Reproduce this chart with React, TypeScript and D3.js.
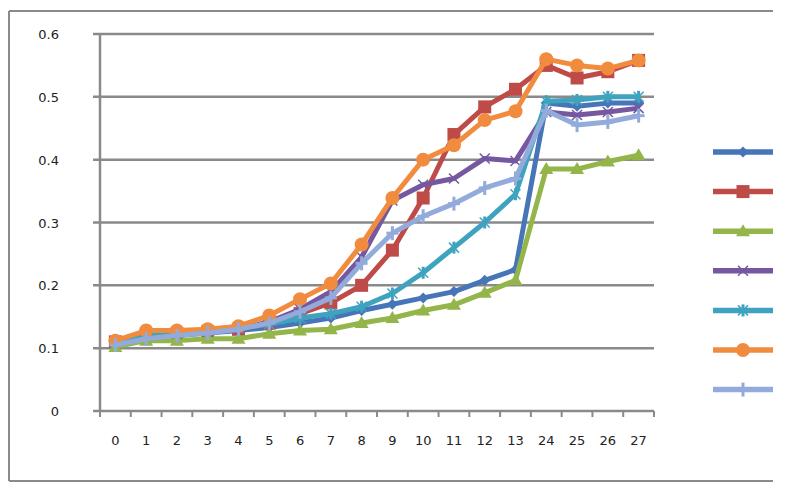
import React from "react";
import * as d3 from "d3";

const categories = ["0","1","2","3","4","5","6","7","8","9","10","11","12","13","24","25","26","27"];
const yTicks = [0, 0.1, 0.2, 0.3, 0.4, 0.5, 0.6];
const yTickLabels = ["0", "0.1", "0.2", "0.3", "0.4", "0.5", "0.6"];

const seriesBlue = [0.11, 0.118, 0.12, 0.124, 0.128, 0.133, 0.14, 0.148, 0.16, 0.17, 0.18, 0.19, 0.208, 0.225, 0.49, 0.485, 0.49, 0.49];
const seriesRed = [0.11, 0.12, 0.123, 0.126, 0.13, 0.14, 0.155, 0.172, 0.2, 0.256, 0.339, 0.44, 0.484, 0.512, 0.55, 0.53, 0.54, 0.558];
const seriesGreen = [0.102, 0.112, 0.112, 0.115, 0.115, 0.123, 0.128, 0.13, 0.14, 0.148, 0.16, 0.169, 0.188, 0.208, 0.385, 0.385, 0.397, 0.407];
const seriesPurple = [0.11, 0.12, 0.123, 0.126, 0.13, 0.142, 0.162, 0.19, 0.245, 0.335, 0.36, 0.37, 0.402, 0.398, 0.476, 0.471, 0.476, 0.482];
const seriesTeal = [0.11, 0.12, 0.125, 0.128, 0.132, 0.138, 0.148, 0.155, 0.166, 0.187, 0.22, 0.26, 0.3, 0.345, 0.493, 0.495, 0.5, 0.5];
const seriesOrange = [0.112, 0.128, 0.128, 0.13, 0.135, 0.152, 0.178, 0.203, 0.265, 0.339, 0.4, 0.423, 0.463, 0.477, 0.56, 0.55, 0.545, 0.558];
const seriesLight = [0.105, 0.115, 0.12, 0.124, 0.13, 0.14, 0.158, 0.18, 0.235, 0.283, 0.31, 0.33, 0.355, 0.37, 0.478, 0.455, 0.46, 0.47];

type Marker = "diamond" | "square" | "triangle" | "x" | "star" | "circle" | "plus";

const series: { values: number[]; color: string; marker: Marker }[] = [
  { values: seriesBlue, color: "#4675B8", marker: "diamond" },
  { values: seriesRed, color: "#BE4B48", marker: "square" },
  { values: seriesGreen, color: "#93B549", marker: "triangle" },
  { values: seriesPurple, color: "#7558A0", marker: "x" },
  { values: seriesTeal, color: "#3FA3BF", marker: "star" },
  { values: seriesOrange, color: "#F18C3F", marker: "circle" },
  { values: seriesLight, color: "#92ABDA", marker: "plus" },
];

const W = 802;
const H = 496;
const plotLeft = 100;
const plotRight = 654;
const plotTop = 34;
const plotBottom = 411;
const gridColor = "#8a8a8a";
const font = "'DejaVu Sans', sans-serif";

function MarkerShape({ type, x, y, color }: { type: Marker; x: number; y: number; color: string }) {
  switch (type) {
    case "diamond":
      return <path d={`M${x},${y - 5.5}L${x + 5.5},${y}L${x},${y + 5.5}L${x - 5.5},${y}Z`} fill={color} />;
    case "square":
      return <rect x={x - 6.5} y={y - 6.5} width={13} height={13} fill={color} />;
    case "triangle":
      return <path d={`M${x},${y - 7}L${x + 7},${y + 5}L${x - 7},${y + 5}Z`} fill={color} />;
    case "x":
      return (
        <g stroke={color} strokeWidth={1.5}>
          <line x1={x - 5} y1={y - 5} x2={x + 5} y2={y + 5} />
          <line x1={x - 5} y1={y + 5} x2={x + 5} y2={y - 5} />
        </g>
      );
    case "star":
      return (
        <g stroke={color} strokeWidth={1.5}>
          <line x1={x - 5} y1={y - 5} x2={x + 5} y2={y + 5} />
          <line x1={x - 5} y1={y + 5} x2={x + 5} y2={y - 5} />
          <line x1={x} y1={y - 6} x2={x} y2={y + 6} strokeWidth={3} />
        </g>
      );
    case "circle":
      return <circle cx={x} cy={y} r={7} fill={color} />;
    case "plus":
      return (
        <g stroke={color} strokeWidth={3}>
          <line x1={x} y1={y - 7} x2={x} y2={y + 7} />
          <line x1={x - 6} y1={y} x2={x + 6} y2={y} />
        </g>
      );
  }
  return null;
}

export default function App() {
  const x = d3.scaleBand<string>().domain(categories).range([plotLeft, plotRight]).padding(0);
  const y = d3.scaleLinear().domain([0, 0.6]).range([plotBottom, plotTop]);
  const cx = (c: string) => (x(c) as number) + x.bandwidth() / 2;

  const line = d3
    .line<number>()
    .x((_, i) => cx(categories[i]))
    .y((d) => y(d));

  const legendX1 = 713;
  const legendX2 = 773;
  const legendY0 = 152;
  const legendStep = 39.6;

  return (
    <svg width={W} height={H} style={{ position: "absolute", left: 0, top: 0, background: "#fff" }}>
      {/* outer frame */}
      <g stroke={gridColor} strokeWidth={2} fill="none">
        <line x1={9} y1={11} x2={773} y2={11} />
        <line x1={9} y1={11} x2={9} y2={481} />
        <line x1={9} y1={481} x2={773} y2={481} />
      </g>

      {/* gridlines */}
      {yTicks.map((t) => (
        <line key={"g" + t} x1={plotLeft - 7} x2={plotRight} y1={y(t)} y2={y(t)} stroke={gridColor} strokeWidth={2.5} />
      ))}
      {/* y axis */}
      <line x1={plotLeft} x2={plotLeft} y1={plotTop} y2={plotBottom + 1} stroke={gridColor} strokeWidth={2.5} />
      {/* x ticks */}
      {d3.range(categories.length + 1).map((i) => {
        const xx = plotLeft + i * x.bandwidth();
        return <line key={"t" + i} x1={xx} x2={xx} y1={plotBottom} y2={plotBottom + 6} stroke={gridColor} strokeWidth={2} />;
      })}

      {/* y labels */}
      {yTicks.map((t, i) => (
        <text key={"yl" + t} x={59} y={y(t) + 5} textAnchor="end" fontFamily={font} fontSize={13} fill="#222">
          {yTickLabels[i]}
        </text>
      ))}
      {/* x labels */}
      {categories.map((c) => (
        <text key={"xl" + c} x={cx(c)} y={445} textAnchor="middle" fontFamily={font} fontSize={13} fill="#222">
          {c}
        </text>
      ))}

      {/* series */}
      {series.map((s, si) => (
        <g key={"s" + si}>
          <path d={line(s.values) || ""} fill="none" stroke={s.color} strokeWidth={5} strokeLinejoin="round" />
          {s.values.map((v, i) => (
            <MarkerShape key={i} type={s.marker} x={cx(categories[i])} y={y(v)} color={s.color} />
          ))}
        </g>
      ))}

      {/* legend */}
      {series.map((s, si) => {
        const ly = legendY0 + si * legendStep;
        return (
          <g key={"lg" + si}>
            <line x1={legendX1} x2={legendX2} y1={ly} y2={ly} stroke={s.color} strokeWidth={5.5} />
            <MarkerShape type={s.marker} x={(legendX1 + legendX2) / 2} y={ly} color={s.color} />
          </g>
        );
      })}
    </svg>
  );
}
